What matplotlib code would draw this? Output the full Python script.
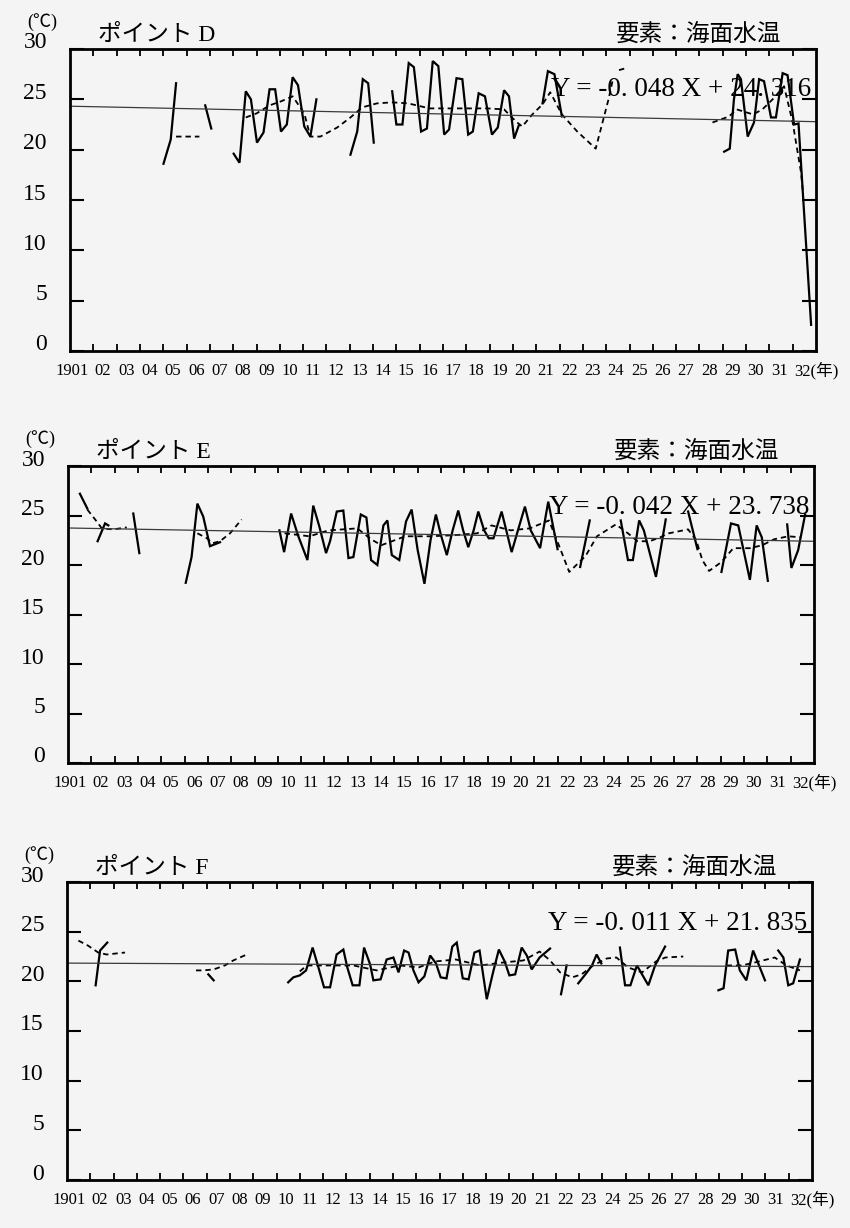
import matplotlib

matplotlib.use("Agg")
import matplotlib.pyplot as plt
import numpy as np

nan = np.nan
plt.rcParams["font.family"] = ["Liberation Serif", "Noto Sans CJK JP"]

years = np.arange(1901, 1933)
year_labels = ["1901"] + [f"{y % 100:02d}" for y in range(1902, 1932)] + ["32(年)"]
temp_ticks = [0, 5, 10, 15, 20, 25, 30]
points = ["D", "E", "F"]
slopes = [-0.048, -0.042, -0.011]
intercepts = [24.316, 23.738, 21.835]
equations = ["Y = -0. 048 X + 24. 316", "Y = -0. 042 X + 23. 738", "Y = -0. 011 X + 21. 835"]

# point D: observed (solid) and running mean (dashed)
d_obs_year = [1905.01, 1905.32, 1905.55, nan,
              1906.8, 1907.06, nan,
              1908.02, 1908.27, 1908.54, 1908.76, 1909.02, 1909.3, 1909.56, 1909.8, 1910.05, 1910.3,
              1910.55, 1910.78, 1911.05, 1911.31, 1911.57, nan,
              1913.03, 1913.32, 1913.56, 1913.79, 1914.03, nan,
              1914.82, 1915.0, 1915.26, 1915.53, 1915.75, 1916.06, 1916.31, 1916.56, 1916.8, 1917.05,
              1917.26, 1917.58, 1917.83, 1918.08, 1918.28, 1918.53, 1918.8, 1919.1, 1919.35, 1919.62,
              1919.83, 1920.05, 1920.25, nan,
              1921.27, 1921.5, 1921.78, 1922.1, nan,
              1929.06, 1929.3, 1929.48, 1929.64, 1929.78, 1930.07, 1930.34, 1930.56, 1930.77, 1931.07,
              1931.28, 1931.57, 1931.78, 1932.06, 1932.25, 1932.79]
d_obs_temp = [18.6, 21.0, 26.6, nan,
              24.4, 22.1, nan,
              19.6, 18.7, 25.8, 25.0, 20.7, 21.7, 26.0, 26.0, 21.8, 22.5,
              27.2, 26.4, 22.3, 21.3, 25.0, nan,
              19.5, 21.8, 27.0, 26.6, 20.7, nan,
              25.8, 22.5, 22.5, 28.6, 28.2, 21.8, 22.1, 28.8, 28.3, 21.5,
              22.0, 27.1, 27.0, 21.5, 21.8, 25.6, 25.3, 21.5, 22.2, 25.9,
              25.3, 21.1, 22.4, nan,
              24.6, 27.8, 27.5, 23.3, nan,
              19.8, 20.1, 25.0, 27.5, 27.0, 21.3, 22.7, 27.0, 26.8, 23.2,
              23.2, 27.6, 27.4, 22.5, 22.6, 2.6]
d_avg_year = [1905.55, 1906.55, nan,
              1908.54, 1909.0, 1909.56, 1910.05, 1910.55, 1911.05, 1911.31, 1911.74, 1912.46, 1913.03,
              1913.53, 1914.17, 1914.82, 1915.5, 1916.43, 1917.46, 1918.9, 1919.62, 1920.13, 1920.4,
              1920.83, 1921.27, 1921.6, 1922.1, 1922.76, 1923.55, 1924.1, 1924.27, nan,
              1924.55, 1924.85, nan,
              1928.56, 1929.27, 1929.6, 1930.3, 1930.7, 1931.14, 1931.63, 1932.0, 1932.36, 1932.43]
d_avg_temp = [21.3, 21.3, nan,
              23.2, 23.6, 24.4, 24.8, 25.3, 23.6, 21.3, 21.3, 22.2, 23.2,
              24.2, 24.6, 24.7, 24.6, 24.1, 24.1, 24.1, 24.0, 22.8, 22.3,
              23.5, 24.5, 25.7, 23.5, 21.8, 20.1, 25.0, 26.8, nan,
              27.9, 28.1, nan,
              22.7, 23.3, 24.0, 23.5, 24.0, 25.0, 26.3, 22.7, 17.7, 16.0]

# point E
e_obs_year = [1901.51, 1901.83, nan,
              1902.27, 1902.59, 1902.73, nan,
              1903.8, 1904.06, nan,
              1906.05, 1906.3, 1906.55, 1906.8, 1907.09, 1907.52, nan,
              1910.07, 1910.27, 1910.57, 1910.88, 1911.27, 1911.52, 1911.78, 1912.07, 1912.24, 1912.53,
              1912.81, 1913.03, 1913.24, 1913.56, 1913.8, 1914.0, 1914.27, 1914.53, 1914.7, 1914.89,
              1915.21, 1915.5, 1915.74, 1916.0, 1916.29, 1916.55, 1916.78, 1917.0, 1917.25, 1917.5,
              1917.74, 1917.95, 1918.17, 1918.4, 1918.6, 1918.85, 1919.05, 1919.25, 1919.6, 1919.8,
              1920.03, 1920.3, 1920.6, 1920.85, 1921.25, 1921.6, 1922.0, nan,
              1922.97, 1923.38, nan,
              1924.71, 1925.02, 1925.23, 1925.5, 1925.7, 1926.22, 1926.64, nan,
              1927.6, 1928.0, nan,
              1929.03, 1929.44, 1929.75, 1930.25, 1930.54, 1930.76, 1931.02, nan,
              1931.85, 1932.03, 1932.32, 1932.62]
e_obs_temp = [27.2, 25.7, nan,
              22.4, 24.2, 24.0, nan,
              25.2, 21.2, nan,
              18.2, 20.8, 26.2, 24.9, 21.9, 22.3, nan,
              23.5, 21.3, 25.2, 22.9, 20.5, 26.0, 23.9, 21.2, 22.4, 25.4,
              25.5, 20.7, 20.8, 25.1, 24.8, 20.5, 20.0, 24.0, 24.5, 21.0,
              20.5, 24.4, 25.6, 21.5, 18.1, 22.5, 25.1, 23.0, 21.0, 23.5,
              25.5, 23.5, 21.8, 23.5, 25.4, 23.5, 22.7, 22.7, 25.4, 23.5,
              21.3, 23.5, 25.9, 23.5, 21.7, 26.4, 21.6, nan,
              19.8, 24.5, nan,
              24.5, 20.5, 20.5, 24.5, 23.5, 18.8, 24.6, nan,
              25.4, 21.6, nan,
              19.3, 24.2, 24.0, 18.5, 24.0, 22.8, 18.4, nan,
              24.1, 19.7, 21.5, 25.1]
e_avg_year = [1901.83, 1902.23, 1902.45, 1902.94, 1903.52, nan,
              1906.55, 1906.96, 1907.2, 1907.52, 1907.95, 1908.45, nan,
              1910.29, 1911.36, 1912.18, 1913.41, 1914.0, 1914.44, 1915.47, 1916.5, 1917.52, 1918.55,
              1919.17, 1919.99, 1920.81, 1921.63, 1921.94, 1922.5, 1923.2, 1923.69, 1924.5, 1925.02,
              1925.43, 1925.95, 1926.4, 1926.77, 1927.6, 1927.95, 1928.21, 1928.5, 1929.03, 1929.54,
              1930.26, 1930.78, 1931.29, 1931.9, 1932.42]
e_avg_temp = [25.6, 24.4, 23.7, 23.6, 23.8, nan,
              23.2, 22.7, 22.2, 22.4, 23.2, 24.6, nan,
              23.2, 22.9, 23.5, 23.7, 22.6, 22.0, 22.9, 22.9, 23.0, 23.2,
              24.0, 23.5, 23.7, 24.5, 22.7, 19.3, 20.9, 22.9, 24.1, 23.2,
              22.4, 22.4, 22.8, 23.2, 23.6, 22.5, 20.5, 19.4, 20.3, 21.7,
              21.7, 22.0, 22.6, 22.9, 22.8]

# point F
f_obs_year = [1902.23, 1902.42, 1902.73, nan,
              1907.07, 1907.3, nan,
              1910.5, 1910.72, 1911.0, 1911.27, 1911.55, 1911.8, 1912.04, 1912.3, 1912.58, 1912.87,
              1913.04, 1913.27, 1913.56, 1913.76, 1914.02, 1914.16, 1914.47, 1914.73, 1915.02, 1915.24,
              1915.48, 1915.67, 1915.88, 1916.1, 1916.35, 1916.6, 1916.85, 1917.05, 1917.3, 1917.55,
              1917.74, 1918.0, 1918.25, 1918.5, 1918.72, 1919.03, 1919.3, 1919.55, 1919.8, 1920.0,
              1920.25, 1920.53, 1920.75, 1920.96, 1921.3, 1921.75, nan,
              1922.22, 1922.46, nan,
              1922.96, 1923.3, 1923.55, 1923.75, 1923.95, nan,
              1924.75, 1924.97, 1925.2, 1925.48, 1925.97, 1926.26, 1926.69, nan,
              1928.98, 1929.2, 1929.4, 1929.7, 1929.9, 1930.18, 1930.47, 1930.98, nan,
              1931.55, 1931.77, 1931.98, 1932.19, 1932.48]
f_obs_temp = [19.6, 23.1, 23.9, nan,
              20.7, 20.1, nan,
              19.9, 20.4, 20.6, 21.1, 23.4, 21.4, 19.4, 19.4, 22.7, 23.2,
              21.4, 19.6, 19.6, 23.4, 21.7, 20.1, 20.2, 22.2, 22.4, 20.9,
              23.1, 22.9, 21.1, 19.9, 20.5, 22.6, 21.8, 20.4, 20.3, 23.5,
              23.9, 20.3, 20.2, 22.9, 23.1, 18.2, 20.9, 23.2, 22.0, 20.6,
              20.7, 23.4, 22.6, 21.2, 22.4, 23.3, nan,
              18.7, 21.6, nan,
              19.8, 20.8, 21.6, 22.7, 21.8, nan,
              23.4, 19.6, 19.6, 21.6, 19.6, 21.6, 23.5, nan,
              19.1, 19.3, 23.1, 23.2, 21.1, 20.1, 23.1, 20.1, nan,
              23.1, 22.4, 19.6, 19.8, 22.2]
f_avg_year = [1901.49, 1901.9, 1902.34, 1902.7, 1903.49, nan,
              1906.54, 1906.85, 1907.3, 1907.78, 1908.14, 1908.72, nan,
              1911.0, 1911.3, 1912.3, 1913.3, 1914.3, 1915.3, 1916.1, 1916.8, 1917.7, 1918.75,
              1919.75, 1920.6, 1921.3, 1921.75, 1922.18, 1922.7, 1923.1, 1923.6, 1924.18, 1924.6,
              1925.1, 1925.7, 1926.3, 1926.7, 1927.47, nan,
              1929.33, 1929.98, 1930.55, 1931.4, 1931.9, 1932.48]
f_avg_temp = [24.1, 23.6, 22.9, 22.7, 22.9, nan,
              21.1, 21.1, 21.2, 21.6, 22.1, 22.7, nan,
              21.0, 21.6, 21.6, 21.6, 21.1, 21.6, 21.4, 22.0, 22.2, 21.6,
              21.9, 22.1, 23.0, 22.1, 20.9, 20.4, 20.7, 21.6, 22.3, 22.4,
              21.4, 20.9, 22.0, 22.4, 22.5, nan,
              21.6, 21.6, 21.9, 22.4, 21.6, 21.1]

obs_years = [d_obs_year, e_obs_year, f_obs_year]
obs_temps = [d_obs_temp, e_obs_temp, f_obs_temp]
avg_years = [d_avg_year, e_avg_year, f_avg_year]
avg_temps = [d_avg_temp, e_avg_temp, f_avg_temp]

PX = 0.72  # points per pixel at dpi 100
boxes = [(70, 49, 816, 351), (68, 466, 814, 763), (67, 882, 812, 1180)]

fig = plt.figure(figsize=(8.5, 12.28), dpi=100, facecolor="#f4f4f4")

for i, (left, top, right, bottom) in enumerate(boxes):
    ax = fig.add_axes([left / 850, 1 - bottom / 1228, (right - left) / 850, (bottom - top) / 1228])
    ax.set_facecolor("#f4f4f4")

    ax.plot(obs_years[i], obs_temps[i], color="black", lw=1.6, solid_joinstyle="miter")
    ax.plot(avg_years[i], avg_temps[i], color="black", lw=1.3, ls=(0, (3, 2.2)))
    trend_x = np.array([0, 32])
    ax.plot(1901 + trend_x, slopes[i] * trend_x + intercepts[i], color="#3a3a3a", lw=0.9)

    ax.set_xlim(1901, 1933)
    ax.set_ylim(0, 30)
    for spine in ax.spines.values():
        spine.set_linewidth(2)

    ax.set_xticks(years[1:])
    ax.set_yticks(temp_ticks)
    ax.tick_params(axis="x", direction="in", length=5, width=1.3, top=True,
                   labelbottom=False)
    ax.tick_params(axis="y", direction="in", length=10, width=1.5, right=True,
                   labelleft=False)

    for y, lab in zip(years, year_labels):
        if y == 1901:
            x, ha = 1901.07, "center"
        else:
            x, ha = y + 0.06, "left"
        ax.annotate(lab, xy=(x, 0), xycoords=("data", "axes fraction"),
                    xytext=(0, -20 * PX), textcoords="offset points",
                    ha=ha, va="center", fontsize=12)

    for v in temp_ticks:
        ax.annotate(str(v), xy=(0, v), xycoords=("axes fraction", "data"),
                    xytext=(-23 * PX, 6 * PX), textcoords="offset points",
                    ha="right", va="center", fontsize=17)

    ax.annotate("(℃)", xy=(0, 1), xycoords="axes fraction",
                xytext=(-28 * PX, 27 * PX), textcoords="offset points",
                ha="center", va="center", fontsize=13)
    ax.annotate(f"ポイント {points[i]}", xy=(0, 1), xycoords="axes fraction",
                xytext=(28 * PX, 14 * PX), textcoords="offset points",
                ha="left", va="center", fontsize=17)
    ax.annotate("要素：海面水温", xy=(1, 1), xycoords="axes fraction",
                xytext=(-35 * PX, 13 * PX), textcoords="offset points",
                ha="right", va="center", fontsize=17)
    ax.annotate(equations[i], xy=(1, 1), xycoords="axes fraction",
                xytext=(-5 * PX, -41 * PX), textcoords="offset points",
                ha="right", va="center", fontsize=19.5)

fig.savefig("out.png", dpi=100, facecolor=fig.get_facecolor())
